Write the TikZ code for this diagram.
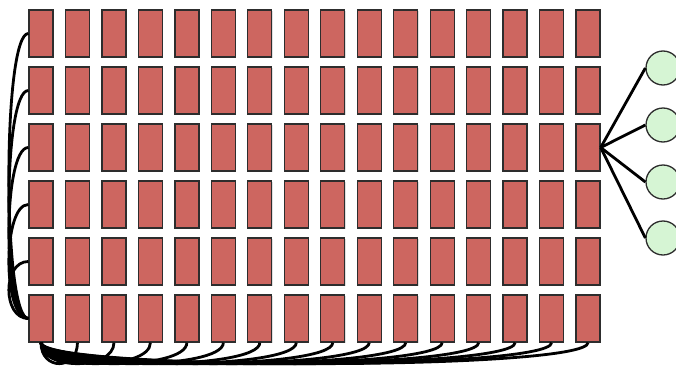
\documentclass[tikz,border=0pt]{standalone}
\usepackage{xcolor}
\usepackage{tikz}
\usetikzlibrary{shadows}
\definecolor{cellred}{RGB}{205,102,96}
\definecolor{unitgreen}{RGB}{214,245,212}
\definecolor{edgegray}{RGB}{45,45,45}

\begin{document}
\begin{tikzpicture}[x=1pt, y=1pt,
  cell/.style={draw=edgegray, fill=cellred, line width=1.3pt, inner sep=0pt,
    minimum width=24pt, minimum height=47pt,
    drop shadow={shadow xshift=0.8pt, shadow yshift=-0.8pt, opacity=0.25}},
  unit/.style={circle, draw=edgegray, fill=unitgreen, line width=1.3pt, inner sep=0pt,
    minimum size=34pt},
  wire/.style={black, line width=2.8pt}]
\clip (0,0) rectangle (676,365);

% grid of cells
\foreach \j in {1,...,16}
  \foreach \i in {1,...,6}
    \node[cell] (c-\i-\j) at ({41+36.47*(\j-1)}, {331.5-57*(\i-1)}) {};

% output units
\foreach \k/\yy in {1/68, 2/125, 3/182, 4/238}
  \node[unit] (u\k) at (663, {365-\yy}) {};

% left column and bottom row wiring
\foreach \i in {1,...,5}
  \draw[wire] (c-\i-1.west) to[out=180, in=180, distance=26pt] (c-6-1.west);
\foreach \j in {2,...,16}
  \draw[wire] (c-6-\j.south) to[out=-90, in=-90, distance=28pt] (c-6-1.south);

% fan-out to units
\foreach \k in {1,...,4}
  \draw[wire] (c-3-16.east) -- (u\k.west);
\end{tikzpicture}
\end{document}
